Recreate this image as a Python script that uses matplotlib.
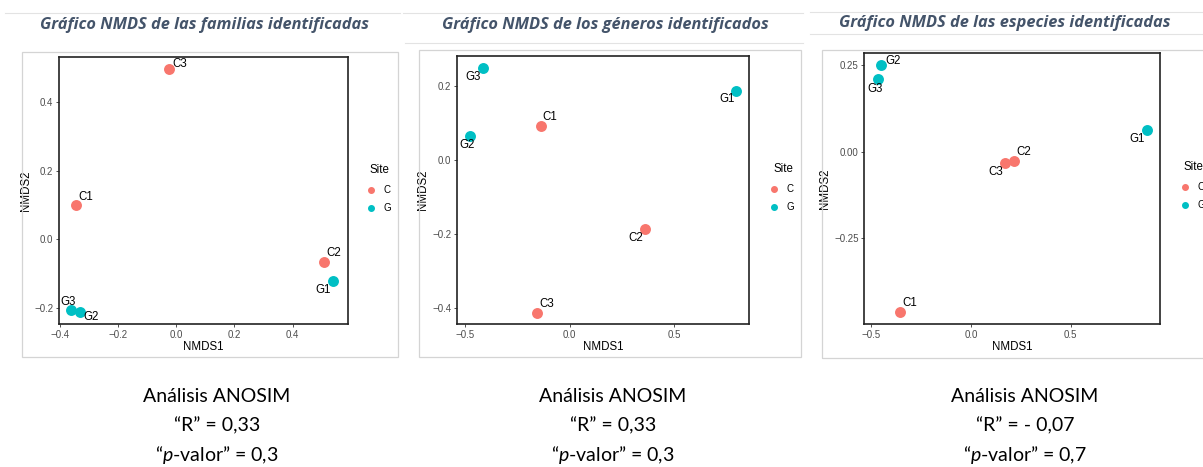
import matplotlib
matplotlib.use("Agg")
import matplotlib.pyplot as plt
from matplotlib.lines import Line2D
from matplotlib.patches import Rectangle

# ---------------- data ----------------
titles = ["Gráfico NMDS de las familias identificadas",
          "Gráfico NMDS de los géneros identificados",
          "Gráfico NMDS de las especies identificadas"]
sample_labels = ["C1", "C2", "C3", "G1", "G2", "G3"]
sites = ["C", "C", "C", "G", "G", "G"]

fam_x = [-0.343, 0.507, -0.025, 0.539, -0.329, -0.361]
fam_y = [0.100, -0.065, 0.496, -0.121, -0.213, -0.206]

gen_x = [-0.138, 0.362, -0.158, 0.797, -0.479, -0.414]
gen_y = [0.093, -0.186, -0.412, 0.187, 0.065, 0.248]

esp_x = [-0.356, 0.214, 0.171, 0.884, -0.451, -0.467]
esp_y = [-0.462, -0.027, -0.032, 0.063, 0.250, 0.209]

fam_xticks = [-0.4, -0.2, 0.0, 0.2, 0.4]
fam_yticks = [-0.2, 0.0, 0.2, 0.4]
gen_xticks = [-0.5, 0.0, 0.5]
gen_yticks = [-0.4, -0.2, 0.0, 0.2]
esp_xticks = [-0.5, 0.0, 0.5]
esp_yticks = [-0.25, 0.00, 0.25]

anosim_R = ["0,33", "0,33", "- 0,07"]
anosim_p = ["0,3", "0,3", "0,7"]

# ---------------- styling ----------------
W, H = 1203, 467
colors = {"C": "#F8766D", "G": "#00BFC4"}
plot_font = ["Liberation Sans", "DejaVu Sans"]
text_font = ["Lato", "DejaVu Sans"]
title_color = "#44546A"
plt.rcParams["mathtext.fontset"] = "custom"
plt.rcParams["mathtext.it"] = "Lato:italic"
plt.rcParams["mathtext.rm"] = "Lato"

fig = plt.figure(figsize=(W / 100, H / 100), dpi=100)
fig.patch.set_facecolor("white")


def px_axes(l, r, t, b):
    return fig.add_axes([l / W, 1 - b / H, (r - l) / W, (b - t) / H])


def fig_rect(l, r, t, b, **kw):
    fig.add_artist(Rectangle((l / W, 1 - b / H), (r - l) / W, (b - t) / H,
                             transform=fig.transFigure, fill=False, **kw))


def fig_hline(x0, x1, y, **kw):
    fig.add_artist(Line2D([x0 / W, x1 / W], [1 - y / H, 1 - y / H],
                          transform=fig.transFigure, **kw))


# label offsets (pixels, label centre relative to point centre)
panels = [
    dict(box=(22, 398, 52, 357), ax=(59, 348, 57, 324), xlim=(-0.402, 0.59), ylim=(-0.247, 0.531),
         xs=fam_x, ys=fam_y, xt=fam_xticks, yt=fam_yticks, tx=205, ty=25, legx=370, legy=170,
         textx=217, yfmt="{:.1f}",
         place={"C1": (10, -8.3), "C2": (9.6, -8.4), "C3": (11.4, -4.7),
                "G1": (-10, 9.7), "G2": (11, 4.7), "G3": (-3, -8)},
         lines=[(5, 400, 13)]),
    dict(box=(419, 801, 50, 357), ax=(456.7, 749.3, 56, 324), xlim=(-0.541, 0.861), ylim=(-0.443, 0.281),
         xs=gen_x, ys=gen_y, xt=gen_xticks, yt=gen_yticks, tx=605, ty=25, legx=773, legy=169,
         textx=613, yfmt="{:.1f}",
         place={"C1": (9.3, -9), "C2": (-9.7, 9), "C3": (10, -9),
                "G1": (-9.3, 8.7), "G2": (-3, 9.3), "G3": (-10, 8.3)},
         lines=[(403, 803, 13), (405, 803, 43)]),
    dict(box=(822, 1210, 50, 358), ax=(864.3, 1160, 52.7, 324), xlim=(-0.535, 0.948), ylim=(-0.497, 0.286),
         xs=esp_x, ys=esp_y, xt=esp_xticks, yt=esp_yticks, tx=1005, ty=23, legx=1184, legy=167,
         textx=1025, yfmt="{:.2f}",
         place={"C1": (9.3, -8.7), "C2": (9.7, -9), "C3": (-9.7, 9.3),
                "G1": (-10, 9), "G2": (12, -3.7), "G3": (-2.7, 9.3)},
         lines=[(810, 1203, 12), (810, 1203, 34)]),
]

for i, p in enumerate(panels):
    for (x0, x1, y) in p["lines"]:
        fig_hline(x0, x1, y, color="#e3e3e3", lw=0.8)
    fig_rect(*p["box"], edgecolor="#d4d4d4", lw=0.9)

    fig.text(p["tx"] / W, 1 - p["ty"] / H, titles[i], ha="center", va="center",
             fontsize=11.8, fontweight="bold", fontstyle="italic", color=title_color,
             family=["Open Sans", "DejaVu Sans"])

    ax = px_axes(*p["ax"])
    for lab, site, x, y in zip(sample_labels, sites, p["xs"], p["ys"]):
        ax.scatter([x], [y], s=62, color=colors[site], zorder=3, linewidths=0)
        dx, dy = p["place"][lab]
        ax.annotate(lab, (x, y), xytext=(dx * 0.72, -dy * 0.72), textcoords="offset points",
                    ha="center", va="center", fontsize=8.3, color="black", family=plot_font)
    ax.set_xlim(*p["xlim"])
    ax.set_ylim(*p["ylim"])
    ax.set_xticks(p["xt"])
    ax.set_xticklabels(["{:.1f}".format(v).replace("-", "\u2212") for v in p["xt"]])
    ax.set_yticks(p["yt"])
    ax.set_yticklabels([p["yfmt"].format(v).replace("-", "\u2212") for v in p["yt"]])
    ax.tick_params(axis="both", direction="out", length=2.5, width=0.6, color="#333333",
                   labelsize=7, labelcolor="#4D4D4D", pad=1.5)
    for lbl in ax.get_xticklabels() + ax.get_yticklabels():
        lbl.set_family(plot_font)
    for s in ax.spines.values():
        s.set_linewidth(1.2)
        s.set_color("#222222")
    ax.set_xlabel("NMDS1", fontsize=8.3, family=plot_font, labelpad=1)
    ax.set_ylabel("NMDS2", fontsize=8.3, family=plot_font, labelpad=2)

    # legend
    lx, ly = p["legx"], p["legy"]
    fig.text(lx / W, 1 - ly / H, "Site", fontsize=8.3, family=plot_font, ha="left", va="center")
    for k, site in enumerate(["C", "G"]):
        yy = ly + 20 + k * 18
        fig.add_artist(Line2D([(lx + 1) / W], [1 - yy / H], marker="o", markersize=4,
                              color=colors[site], linestyle="none", transform=fig.transFigure))
        fig.text((lx + 13) / W, 1 - yy / H, site, fontsize=7, family=plot_font,
                 ha="left", va="center")

    # ANOSIM text
    tx = p["textx"]
    fig.text(tx / W, 1 - 397 / H, "Análisis ANOSIM", ha="center", va="center",
             fontsize=14, family=text_font)
    fig.text(tx / W, 1 - 426 / H, "\u201cR\u201d = " + anosim_R[i], ha="center", va="center",
             fontsize=14, family=text_font)
    fig.text(tx / W, 1 - 455 / H, "\u201c$\\mathit{p}$-valor\u201d = " + anosim_p[i], ha="center",
             va="center", fontsize=14, family=text_font)

fig.savefig("out.png", dpi=100, facecolor="white")
